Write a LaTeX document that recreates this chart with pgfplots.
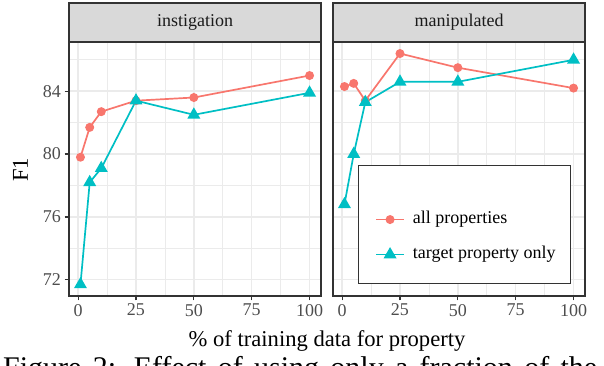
\documentclass[border=0pt]{standalone}
\usepackage{fontspec}
\setmainfont{Liberation Serif}
\usepackage{pgfplots}
\pgfplotsset{compat=1.18}

\definecolor{ggred}{HTML}{F8766D}
\definecolor{ggcyan}{HTML}{00BFC4}
\definecolor{ggframe}{HTML}{333333}
\definecolor{ggstrip}{HTML}{D9D9D9}
\definecolor{gggrid}{HTML}{EBEBEB}
\definecolor{ggtick}{HTML}{4D4D4D}
\definecolor{ggtext}{HTML}{1A1A1A}

\tikzset{strip/.style={fill=ggstrip, draw=ggframe, line width=1.2pt}}

\pgfplotsset{
  facet/.style={
    scale only axis, width=252pt, height=254pt,
    anchor=south west,
    xmin=-3.95, xmax=104.95, ymin=70.965, ymax=87.135,
    xtick={0,25,50,75,100}, ytick={72,76,80,84},
    minor xtick={12.5,37.5,62.5,87.5}, minor ytick={74,78,82,86},
    grid=both,
    major grid style={gggrid, line width=1.5pt},
    minor grid style={gggrid, line width=0.75pt},
    axis line style={ggframe, line width=1.2pt},
    tick align=outside, major tick length=4.5pt, minor tick length=0pt,
    major tick style={ggframe, line width=1.2pt},
    ticklabel style={font=\fontsize{18}{18}\selectfont, text=ggtick},
    /pgf/number format/assume math mode=true,
    xtick pos=bottom, ytick pos=left,
    clip=false,
  },
  allprop/.style={color=ggred, line width=1.7pt, mark=*, mark size=3.6pt},
  target/.style={color=ggcyan, line width=1.7pt, mark=triangle*, mark size=5.8pt},
}

\begin{document}
\begin{tikzpicture}
\useasboundingbox (0,0) rectangle (604pt,366pt);

% left facet
\begin{axis}[facet, at={(69pt,70pt)}]
  \addplot[allprop] coordinates {(1,79.8) (5,81.7) (10,82.7) (25,83.4) (50,83.6) (100,85.0)};
  \addplot[target] coordinates {(1,71.7) (5,78.2) (10,79.1) (25,83.4) (50,82.5) (100,83.9)};
\end{axis}

% right facet
\begin{axis}[facet, at={(333pt,70pt)}, yticklabels={}, ytick style={draw=none},
  legend style={draw=none, fill=none, inner sep=0pt,
    at={(rel axis cs:0.1667,0.232)}, anchor=west,
    font=\fontsize{18}{18}\selectfont, row sep=19pt, column sep=8pt,
    nodes={inner sep=0pt, text height=12pt, text depth=4pt}},
  legend cell align=left,
  legend image code/.code={\draw[mark repeat=2, mark phase=2, #1] plot coordinates {(0pt,0pt) (14pt,0pt) (28pt,0pt)};}]
  \draw[ggframe, line width=0.8pt, fill=white] (rel axis cs:0.102,0.05) rectangle (rel axis cs:0.942,0.516);
  \addplot[allprop] coordinates {(1,84.3) (5,84.5) (10,83.4) (25,86.4) (50,85.5) (100,84.2)};
  \addplot[target] coordinates {(1,76.8) (5,80.0) (10,83.3) (25,84.6) (50,84.6) (100,86.0)};
  \legend{all properties, target property only}
\end{axis}

% strips
\draw[strip] (69pt,324pt) rectangle (321pt,363pt);
\node[text=ggtext, font=\fontsize{18}{18}\selectfont] at (195pt,343.5pt) {instigation};
\draw[strip] (333pt,324pt) rectangle (585pt,363pt);
\node[text=ggtext, font=\fontsize{18}{18}\selectfont] at (459pt,343.5pt) {manipulated};

% axis titles
\node[rotate=90, font=\fontsize{22.6}{22.6}\selectfont] at (20.5pt,196pt) {F1};
\node[anchor=base, font=\fontsize{22.6}{22.6}\selectfont] at (327pt,19.3pt) {\% of training data for property};

% cropped caption line below the figure
\node[anchor=base west, inner sep=0pt, font=\fontsize{30}{30}\selectfont] at (3pt,-12pt)
  {\makebox[594pt][s]{Figure 2: Effect of using only a fraction of the}};
\end{tikzpicture}
\end{document}
